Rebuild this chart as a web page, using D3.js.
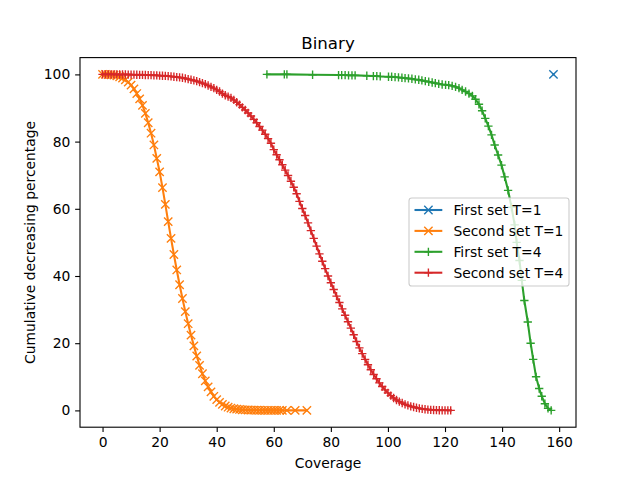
<!DOCTYPE html>
<html>
<head>
<meta charset="utf-8">
<script src="https://cdn.jsdelivr.net/npm/d3@7"></script>
<style>
  html, body { margin: 0; padding: 0; background: #fff; }
  svg { display: block; font-family: "DejaVu Sans", sans-serif; }
</style>
</head>
<body>
<svg id="chart" width="640" height="480"></svg>
<script>
// ---------------- data ----------------
const title = "Binary";
const xLabel = "Coverage";
const yLabel = "Cumulative decreasing percentage";
const xTicks = [0, 20, 40, 60, 80, 100, 120, 140, 160];
const yTicks = [0, 20, 40, 60, 80, 100];

const seriesNames = ["First set T=1", "Second set T=1", "First set T=4", "Second set T=4"];
const seriesColors = ["#1f77b4", "#ff7f0e", "#2ca02c", "#d62728"];
const seriesMarkers = ["x", "x", "+", "+"];

// First set T=1
const firstT1X = [158];
const firstT1Y = [100];

// Second set T=1
const secondT1X = [0,1,2,3,4,5,6,7,8,9,10,11,12,13,14,15,16,17,18,19,20,21,22,23,24,25,26,27,28,29,30,31,32,33,34,35,36,37,38,39,40,41,42,43,44,45,46,47,48,49,50,51,52,53,54,55,56,57,58,59,60,61,62,63,64.6,67.5,71.6];
const secondT1Y = [100,100,99.95,99.9,99.8,99.6,99.3,98.9,98.4,97.7,96.8,95.7,94.3,92.7,90.8,88.4,85.6,82.5,79.0,75.0,71.0,66.3,61.3,56.2,51.2,46.4,41.8,37.4,33.3,29.4,25.8,22.4,19.2,16.2,13.4,10.9,8.8,7.0,5.5,4.2,3.2,2.4,1.8,1.3,0.95,0.7,0.5,0.38,0.28,0.2,0.15,0.12,0.09,0.07,0.05,0.04,0.03,0.02,0.015,0.01,0.01,0.005,0.003,0.002,0,0,0];

// First set T=4
const firstT4X = [57.6,63.7,64.6,73.6,82.7,83.8,85,86.2,87.4,88.5,92.6,94.9,96.1,97.3,100.2,101.3,102.5,103.7,104.9,106,107.2,108.4,109.6,110.8,111.9,113.1,114.3,115.5,116.6,117.8,119,120.2,121.3,122.5,123.7,124.9,126,127.2,128.4,129.6,130.7,131.9,133,134.1,135.2,136.3,137.4,138.6,139.8,140.9,142.1,143.3,144.4,145.1,146.1,146.9,147.8,149,150,150.9,151.9,153,153.9,155,156.1,157.2];
const firstT4Y = [100,100,100,99.9,99.8,99.8,99.8,99.7,99.7,99.7,99.6,99.5,99.5,99.4,99.3,99.3,99.2,99.1,99.0,98.9,98.8,98.7,98.5,98.4,98.2,98.0,97.8,97.6,97.4,97.2,97.0,96.9,96.8,96.6,96.3,95.9,95.4,94.9,94.3,93.6,92.6,91.1,89.2,86.9,84.6,82.0,79.0,76.0,73.0,69.5,65.5,60.5,55.2,50.0,44.6,38.7,32.7,26.3,20.0,15.2,10.0,6.5,4.2,2.0,0.6,0];

// Second set T=4
const secondT4X = [0,1,2,3,4,5,6,7,8,9,10,11,12,13,14,15,16,17,18,19,20,21,22,23,24,25,26,27,28,29,30,31,32,33,34,35,36,37,38,39,40,41,42,43,44,45,46,47,48,49,50,51,52,53,54,55,56,57,58,59,60,61,62,63,64,65,66,67,68,69,70,71,72,73,74,75,76,77,78,79,80,81,82,83,84,85,86,87,88,89,90,91,92,93,94,95,96,97,98,99,100,101,102,103,104,105,106,107,108,109,110,111,112,113,114,115,116,117,118,119,120,121,122];
const secondT4Y = [100,100,100,100,100,99.99,99.98,99.97,99.96,99.95,99.94,99.92,99.9,99.88,99.85,99.82,99.8,99.77,99.73,99.7,99.65,99.6,99.55,99.5,99.4,99.3,99.2,99.1,99.0,98.8,98.6,98.4,98.2,98.0,97.7,97.4,97.1,96.7,96.3,95.9,95.4,94.9,94.3,93.8,93.4,93.0,92.4,91.7,91.0,90.2,89.4,88.5,87.6,86.6,85.6,84.5,83.4,82.2,80.9,79.5,77.6,76.1,74.6,73.1,71.5,69.9,68.2,66.4,64.5,62.2,60.1,58.0,55.8,53.5,51.2,48.9,46.6,44.4,42.2,40.0,38.0,36.0,34.0,32.1,30.2,28.3,26.4,24.5,22.5,20.5,18.6,16.9,15.2,13.6,12.1,10.7,9.4,8.2,7.1,6.1,5.2,4.4,3.7,3.1,2.6,2.2,1.8,1.5,1.2,1.0,0.8,0.6,0.45,0.35,0.25,0.18,0.12,0.08,0.05,0.03,0.02,0.01,0];

const allX = [firstT1X, secondT1X, firstT4X, secondT4X];
const allY = [firstT1Y, secondT1Y, firstT4Y, secondT4Y];

// ---------------- layout ----------------
const W = 640, H = 480;
const L = 80, R = 576, T = 57.6, B = 427.2;
const svg = d3.select("#chart");

const xMin = 0, xMax = 158;
const xPad = (xMax - xMin) * 0.05;
const x = d3.scaleLinear().domain([xMin - xPad, xMax + xPad]).range([L, R]);
const y = d3.scaleLinear().domain([-5, 105]).range([B, T]);

const tickLen = 4.86, fontPx = 13.89;

// x axis
const xAxis = d3.axisBottom(x).tickValues(xTicks).tickSize(tickLen).tickPadding(4.86).tickFormat(d3.format("d"));
const gx = svg.append("g").attr("transform", `translate(0,${B})`).call(xAxis);
gx.select(".domain").remove();
gx.selectAll("line").attr("stroke", "#000").attr("stroke-width", 1.1);
gx.selectAll("text").attr("font-size", fontPx).attr("fill", "#000").attr("font-family", "DejaVu Sans");

const yAxis = d3.axisLeft(y).tickValues(yTicks).tickSize(tickLen).tickPadding(4.86).tickFormat(d3.format("d"));
const gy = svg.append("g").attr("transform", `translate(${L},0)`).call(yAxis);
gy.select(".domain").remove();
gy.selectAll("line").attr("stroke", "#000").attr("stroke-width", 1.1);
gy.selectAll("text").attr("font-size", fontPx).attr("fill", "#000").attr("font-family", "DejaVu Sans");

// clip
svg.append("clipPath").attr("id", "clip").append("rect")
  .attr("x", L).attr("y", T).attr("width", R - L).attr("height", B - T);

const plot = svg.append("g").attr("clip-path", "url(#clip)");
const ms = 4.17; // marker half size
const lineGen = d3.line().x(d => x(d[0])).y(d => y(d[1]));

function markerPath(type, cx, cy) {
  if (type === "x") {
    return `M${cx - ms},${cy - ms}L${cx + ms},${cy + ms}M${cx - ms},${cy + ms}L${cx + ms},${cy - ms}`;
  }
  return `M${cx - ms},${cy}L${cx + ms},${cy}M${cx},${cy - ms}L${cx},${cy + ms}`;
}

allX.forEach((xs, i) => {
  const pts = xs.map((v, j) => [v, allY[i][j]]);
  const g = plot.append("g");
  g.append("path").datum(pts).attr("d", lineGen)
    .attr("fill", "none").attr("stroke", seriesColors[i])
    .attr("stroke-width", 2.08).attr("stroke-linejoin", "round").attr("stroke-linecap", "square");
  g.selectAll("path.m").data(pts).enter().append("path").attr("class", "m")
    .attr("d", d => markerPath(seriesMarkers[i], x(d[0]), y(d[1])))
    .attr("stroke", seriesColors[i]).attr("stroke-width", 1.39).attr("fill", "none");
});

// spines
svg.append("rect").attr("x", L).attr("y", T).attr("width", R - L).attr("height", B - T)
  .attr("fill", "none").attr("stroke", "#000").attr("stroke-width", 1.1);

// title and labels
svg.append("text").attr("x", (L + R) / 2).attr("y", 49.3).attr("text-anchor", "middle")
  .attr("font-size", 16.67).text(title);
svg.append("text").attr("x", (L + R) / 2).attr("y", 467.5).attr("text-anchor", "middle")
  .attr("font-size", fontPx).text(xLabel);
svg.append("text").attr("transform", `translate(34.5,${(T + B) / 2}) rotate(-90)`)
  .attr("text-anchor", "middle").attr("font-size", fontPx).text(yLabel);

// legend
const lgX = 409, lgY = 198, lgW = 160, lgH = 88;
const lg = svg.append("g");
lg.append("rect").attr("x", lgX).attr("y", lgY).attr("width", lgW).attr("height", lgH)
  .attr("rx", 2.8).attr("fill", "#fff").attr("fill-opacity", 0.8)
  .attr("stroke", "#cccccc").attr("stroke-width", 1.1);
seriesNames.forEach((name, i) => {
  const cy = 210 + i * 20.9;
  const x0 = lgX + 5.5, x1 = x0 + 27.8;
  lg.append("line").attr("x1", x0).attr("x2", x1).attr("y1", cy).attr("y2", cy)
    .attr("stroke", seriesColors[i]).attr("stroke-width", 2.08);
  lg.append("path").attr("d", markerPath(seriesMarkers[i], (x0 + x1) / 2, cy))
    .attr("stroke", seriesColors[i]).attr("stroke-width", 1.39).attr("fill", "none");
  lg.append("text").attr("x", x1 + 11.1).attr("y", cy).attr("dy", "0.35em")
    .attr("font-size", fontPx).text(name);
});
</script>
</body>
</html>
